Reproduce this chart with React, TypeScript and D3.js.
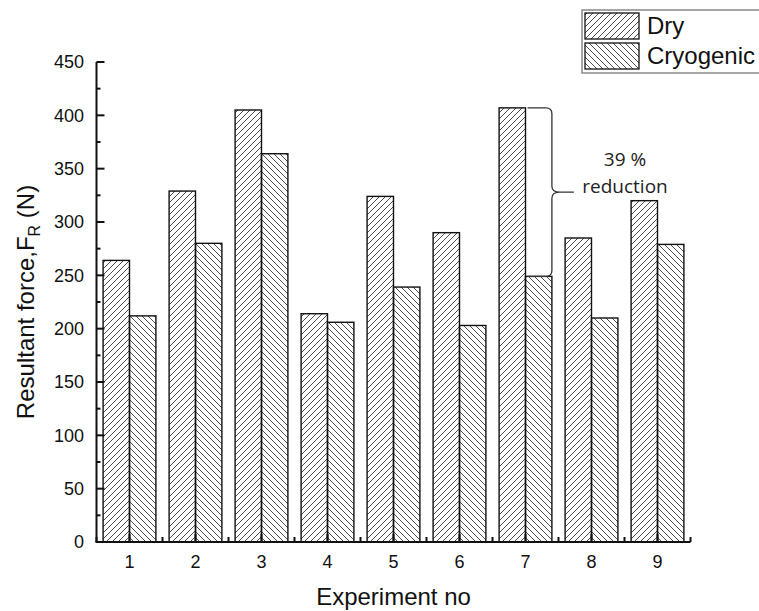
import React from 'react';
import * as d3 from 'd3';

const experiments = [1, 2, 3, 4, 5, 6, 7, 8, 9];
const dryForce = [264, 329, 405, 214, 324, 290, 407, 285, 320];
const cryoForce = [212, 280, 364, 206, 239, 203, 249, 210, 279];
const yTicks = [0, 50, 100, 150, 200, 250, 300, 350, 400, 450];
const seriesNames = ['Dry', 'Cryogenic'];
const noteLines = ['39 %', 'reduction'];
const noteIndex = 6; // experiment 7

export default function App() {
    const x = d3.scaleLinear().domain([0.5, 9.5]).range([96.5, 690.5]);
    const y = d3.scaleLinear().domain([0, 450]).range([542, 62]);
    const step = x(2) - x(1);
    const bw = step * 0.4;
    const font = 'Arial, "Liberation Sans", sans-serif';

    const minorY = d3.range(0, 451, 25).filter((v) => v % 50 !== 0);
    const minorX = d3.range(0.5, 9.6, 1);

    // curly brace between dry and cryo tops of experiment 7
    const bx0 = x(experiments[noteIndex]) + 2;
    const bx1 = x(experiments[noteIndex]) + bw;
    const tipX = bx1 + 22;
    const yTop = y(dryForce[noteIndex]);
    const yBot = y(cryoForce[noteIndex]);
    const yMid = (yTop + yBot) / 2;
    const brace = `M${bx0},${yTop} L${bx1 - 6},${yTop} Q${bx1},${yTop} ${bx1},${yTop + 6}
        L${bx1},${yMid - 6} Q${bx1},${yMid} ${bx1 + 8},${yMid} L${tipX},${yMid}
        M${bx1 + 8},${yMid} Q${bx1},${yMid} ${bx1},${yMid + 6}
        L${bx1},${yBot - 6} Q${bx1},${yBot} ${bx1 - 6},${yBot} L${bx0},${yBot}`;

    return (
        <svg width={759} height={611} style={{ position: 'absolute', left: 0, top: 0, background: '#fff' }}>
            <defs>
                <pattern id="hatchDry" width={6} height={6} patternUnits="userSpaceOnUse">
                    <path d="M-1.5,1.5 l3,-3 M0,6 l6,-6 M4.5,7.5 l3,-3" stroke="#222" strokeWidth={0.8} />
                </pattern>
                <pattern id="hatchCryo" width={6} height={6} patternUnits="userSpaceOnUse">
                    <path d="M-1.5,4.5 l3,3 M0,0 l6,6 M4.5,-1.5 l3,3" stroke="#222" strokeWidth={0.8} />
                </pattern>
            </defs>
            <rect width={759} height={611} fill="#fff" />

            {/* bars */}
            {experiments.map((e, i) => (
                <g key={e}>
                    <rect x={x(e) - bw} y={y(dryForce[i])} width={bw} height={y(0) - y(dryForce[i])}
                        fill="url(#hatchDry)" stroke="#111" strokeWidth={1.4} />
                    <rect x={x(e)} y={y(cryoForce[i])} width={bw} height={y(0) - y(cryoForce[i])}
                        fill="url(#hatchCryo)" stroke="#111" strokeWidth={1.4} />
                </g>
            ))}

            {/* y axis */}
            <line x1={x(0.5)} x2={x(0.5)} y1={y(0)} y2={y(450)} stroke="#111" strokeWidth={2} />
            {yTicks.map((t) => (
                <g key={t}>
                    <line x1={x(0.5)} x2={x(0.5) + 8} y1={y(t)} y2={y(t)} stroke="#111" strokeWidth={2} />
                    <text x={84} y={y(t)} dy="0.35em" textAnchor="end" fontSize={18} fontFamily={font} fill="#111">{t}</text>
                </g>
            ))}
            {minorY.map((t) => (
                <line key={t} x1={x(0.5)} x2={x(0.5) + 4} y1={y(t)} y2={y(t)} stroke="#111" strokeWidth={2} />
            ))}

            {/* x axis */}
            <line x1={x(0.5) - 1} x2={x(9.5)} y1={y(0)} y2={y(0)} stroke="#111" strokeWidth={2} />
            {experiments.map((e) => (
                <g key={e}>
                    <line x1={x(e)} x2={x(e)} y1={y(0)} y2={y(0) - 8} stroke="#111" strokeWidth={2} />
                    <text x={x(e)} y={568} textAnchor="middle" fontSize={18} fontFamily={font} fill="#111">{e}</text>
                </g>
            ))}
            {minorX.map((v) => (
                <line key={v} x1={x(v)} x2={x(v)} y1={y(0)} y2={y(0) - 5} stroke="#111" strokeWidth={2} />
            ))}

            {/* axis titles */}
            <text x={(x(0.5) + x(9.5)) / 2} y={605} textAnchor="middle" fontSize={24} fontFamily={font} fill="#111">Experiment no</text>
            <text transform={`translate(34,${(y(0) + y(450)) / 2}) rotate(-90)`} textAnchor="middle" fontSize={24} fontFamily={font} fill="#111">
                Resultant force,F<tspan fontSize={16} dy={6}>R</tspan><tspan dy={-6}> (N)</tspan>
            </text>

            {/* annotation */}
            <path d={brace} fill="none" stroke="#333" strokeWidth={1.3} />
            {noteLines.map((s, i) => (
                <text key={s} x={625} y={166 + i * 27} textAnchor="middle" fontSize={19}
                    fontFamily='"Open Sans", "Noto Sans", sans-serif' fill="#222">{s}</text>
            ))}

            {/* legend */}
            <rect x={582} y={10} width={200} height={63} fill="#fff" stroke="#888" strokeWidth={1.5} />
            {seriesNames.map((s, i) => (
                <g key={s}>
                    <rect x={585} y={13 + i * 30} width={54} height={26}
                        fill={i === 0 ? 'url(#hatchDry)' : 'url(#hatchCryo)'} stroke="#111" strokeWidth={1.3} />
                    <text x={647} y={34 + i * 30} fontSize={24} fontFamily={font} fill="#111">{s}</text>
                </g>
            ))}
        </svg>
    );
}
